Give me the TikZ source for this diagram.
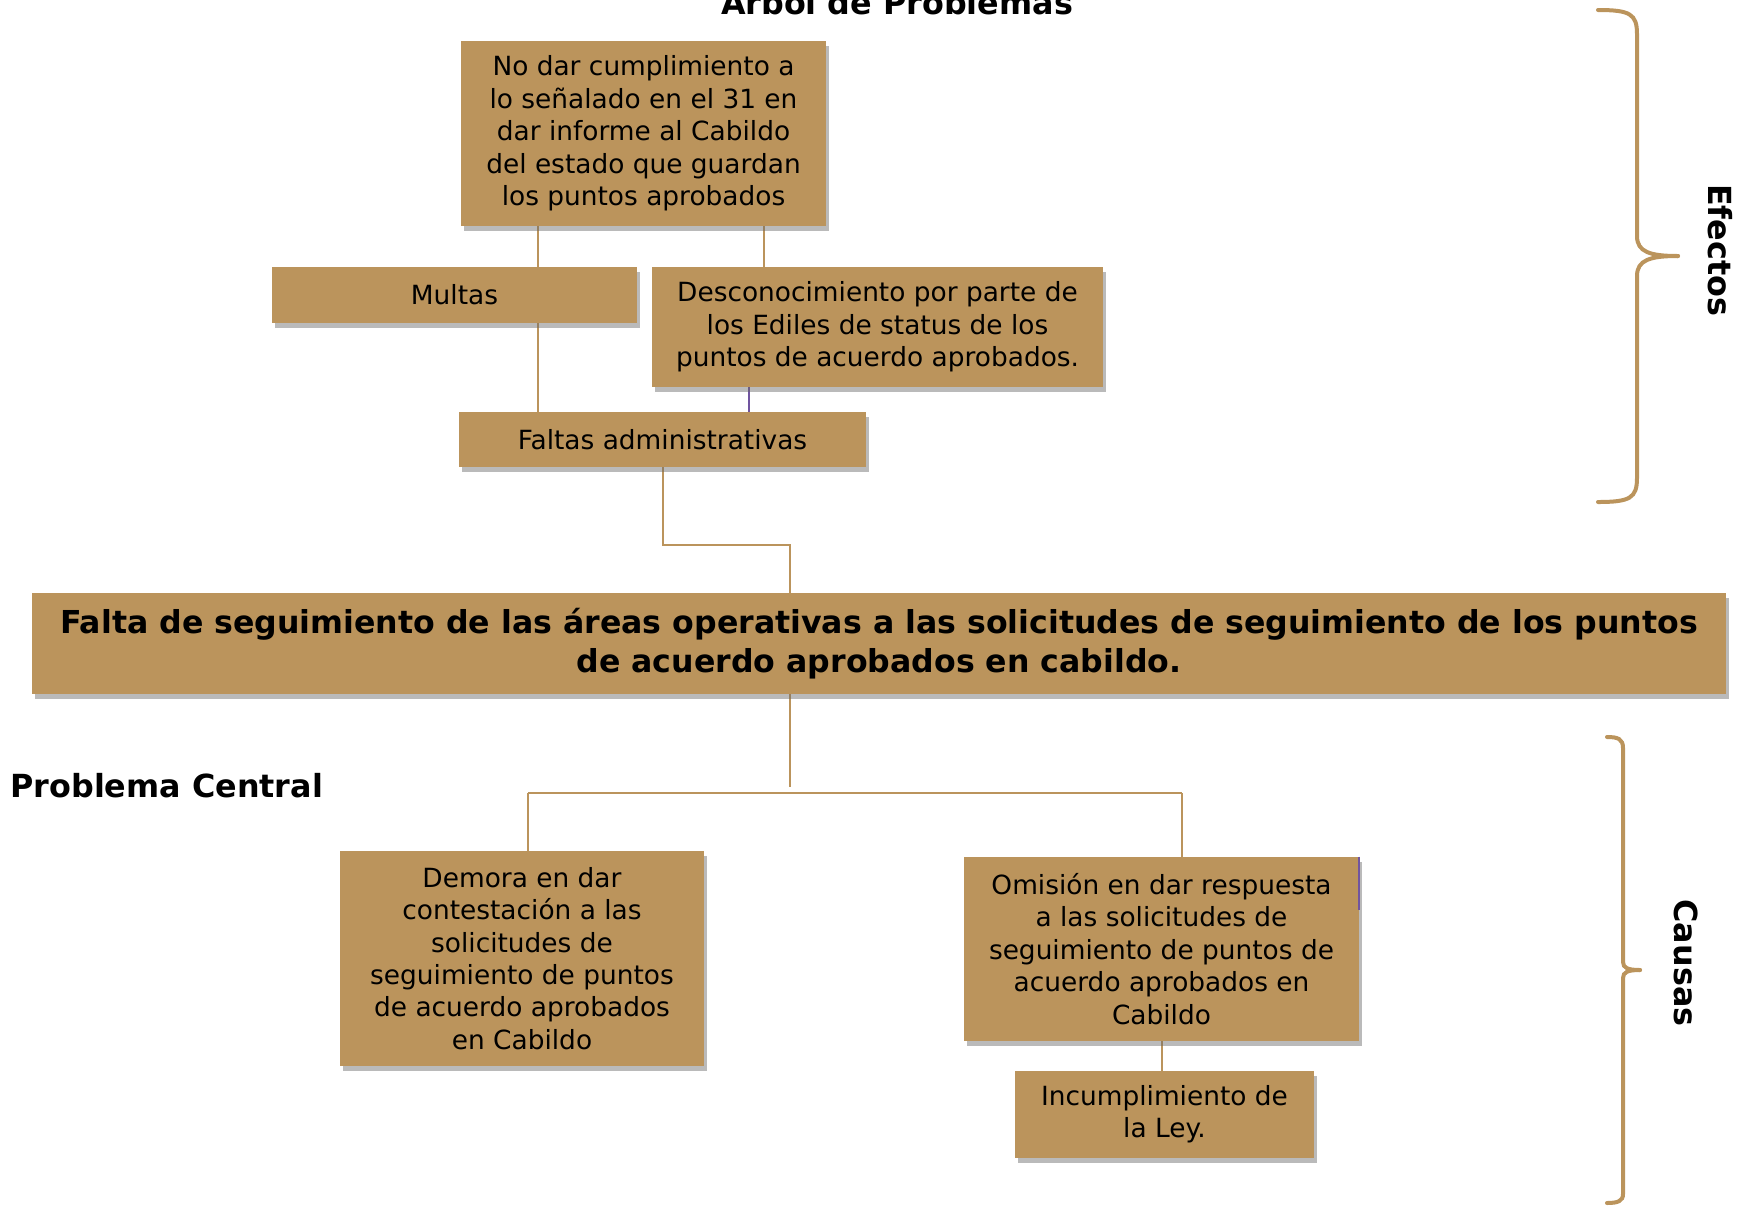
\documentclass[tikz,border=0pt]{standalone}
\usepackage{fontspec}
\setmainfont{DejaVu Sans}
\usetikzlibrary{shadows,backgrounds,calc}
\definecolor{cafe}{RGB}{187,148,92}
\definecolor{morado}{RGB}{112,84,160}
\tikzset{
    caja/.style={fill=cafe,align=center,inner sep=0pt,
        font=\fontsize{13.2}{16.2}\selectfont,
        drop shadow={shadow xshift=1.5pt,shadow yshift=-2.5pt,opacity=0.45,fill=black!60}},
    linea/.style={draw=cafe,line width=1pt},
    llave/.style={draw=cafe,line width=2pt,line cap=round},
    rotulo/.style={font=\fontsize{15.9}{19}\selectfont\bfseries,inner sep=0pt}
}

\begin{document}
\begin{tikzpicture}[x=0.5pt,y=-0.5pt]
        \useasboundingbox (0,0) rectangle (1747,1206);
        % titulos
        \node[rotulo,anchor=base](titulo)at(897,14){Árbol de Problemas};
        \node[rotulo,anchor=base west](central)at(10,797){Problema Central};
        \node[rotulo,rotate=-90](efectos)at(1720,250){Efectos};
        \node[rotulo,rotate=-90](causas)at(1686,963){Causas};
        % efectos
        \node[caja,minimum width=182.5pt,minimum height=92.5pt](A)at(643.5,133.5)
            {No dar cumplimiento a\\lo señalado en el 31 en\\dar informe al Cabildo\\del estado que guardan\\los puntos aprobados};
        \node[caja,minimum width=182.5pt,minimum height=28pt](multas)at(454.5,295){Multas};
        \node[caja,minimum width=225.5pt,minimum height=60pt](desc)at(877.5,327)
            {Desconocimiento por parte de\\los Ediles de status de los\\puntos de acuerdo aprobados.};
        \node[caja,minimum width=203.5pt,minimum height=27.5pt](faltas)at(662.5,439.5){Faltas administrativas};
        % problema central
        \node[caja,minimum width=847pt,minimum height=50.5pt,
            font=\fontsize{15.8}{19.5}\selectfont\bfseries](P)at(879,643.5)
            {Falta de seguimiento de las áreas operativas a las solicitudes de seguimiento de los puntos\\de acuerdo aprobados en cabildo.};
        % causas
        \node[caja,minimum width=182pt,minimum height=107.5pt](demora)at(522,958.5)
            {Demora en dar\\contestación a las\\solicitudes de\\seguimiento de puntos\\de acuerdo aprobados\\en Cabildo};
        \node[caja,minimum width=197.5pt,minimum height=92pt](omision)at(1161.5,949)
            {Omisión en dar respuesta\\a las solicitudes de\\seguimiento de puntos de\\acuerdo aprobados en\\Cabildo};
        \node[caja,minimum width=149.5pt,minimum height=43.5pt](ley)at(1164.5,1114.5)
            {Incumplimiento de\\la Ley.};
        \draw[morado,line width=1pt](omision.north east)--++(0,53);
        % conectores
        \coordinate(c1)at(538,0);
        \coordinate(c2)at(764,0);
        \coordinate(c3)at(749,0);
        \coordinate(j1)at(790,545);
        \coordinate(j2)at(790,787);
        \coordinate(hL)at(528,793);
        \coordinate(hR)at(1182,793);
        \begin{scope}[on background layer]
        \draw[linea](A.south -| c1)to(faltas.north -| c1);
        \draw[linea](A.south -| c2)to(desc.north -| c2);
        \draw[morado,line width=1pt](desc.south -| c3)to(faltas.north -| c3);
        \draw[linea](faltas.south)|-(j1)to(j1 |- P.north);
        \draw[linea](P.south -| j2)to(j2);
        \draw[linea](hL)to(hR);
        \draw[linea](hL)to(hL |- demora.north);
        \draw[linea](hR)to(hR |- omision.north);
        \draw[linea](omision.south)to(omision.south |- ley.north);
        \end{scope}
        % llaves
        \draw[llave](1598,10)..controls(1630,10)and(1637,14)..(1637,34)
            to(1637,236)..controls(1637,252)and(1650,256)..(1678,256);
        \draw[llave](1678,256)..controls(1650,256)and(1637,260)..(1637,276)
            to(1637,478)..controls(1637,498)and(1630,502)..(1598,502);
        \draw[llave](1607,737)..controls(1618,737)and(1623,739)..(1623,748)
            to(1623,962)..controls(1623,968)and(1628,970)..(1640,970);
        \draw[llave](1640,970)..controls(1628,970)and(1623,972)..(1623,978)
            to(1623,1194)..controls(1623,1201)and(1618,1203)..(1607,1203);
    \end{tikzpicture}
\end{document}
